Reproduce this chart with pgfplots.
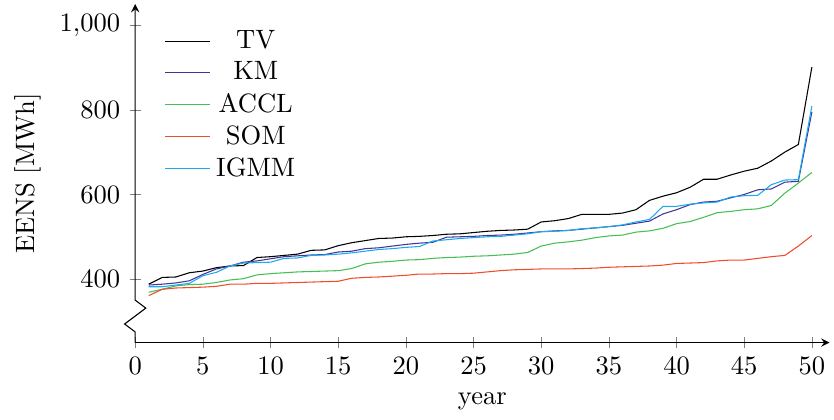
\documentclass[border=0pt]{standalone}
\usepackage{pgfplots}
\usepackage{pgfplotstable}
\pgfplotsset{compat=1.18}
\definecolor{cKM}{RGB}{68,52,150}
\definecolor{cACCL}{RGB}{70,190,85}
\definecolor{cSOM}{RGB}{240,75,45}
\definecolor{cIGMM}{RGB}{25,170,240}
\pgfplotstableread{
year TV KM ACCL SOM IGMM
1 388 386 369 361 382
2 404 388 376 376 382
3 405 391 384 379 386
4 415 396 387 380 390
5 419 411 388 381 408
6 427 424 392 383 416
7 431 431 398 388 431
8 432 440 401 388 438
9 451 443 410 390 439
10 453 448 413 390 440
11 456 453 415 391 449
12 459 455 417 392 450
13 468 457 418 393 456
14 469 458 419 394 457
15 479 464 420 395 459
16 486 466 425 402 462
17 491 472 436 404 466
18 496 474 440 405 470
19 497 478 442 407 472
20 500 482 445 409 475
21 501 485 446 412 477
22 503 487 449 412 490
23 506 499 451 413 493
24 507 500 452 413 496
25 510 501 454 414 498
26 513 503 455 417 500
27 515 504 457 420 501
28 516 506 459 422 504
29 518 509 463 423 507
30 535 512 478 424 512
31 538 514 485 424 513
32 543 515 488 424 515
33 553 518 492 425 519
34 553 521 498 426 521
35 553 524 502 428 524
36 556 527 504 429 528
37 564 532 511 430 535
38 586 537 514 431 541
39 596 554 520 433 572
40 604 564 531 437 572
41 617 576 536 438 577
42 636 582 546 439 580
43 636 584 557 443 582
44 646 592 560 445 594
45 655 600 564 445 597
46 662 611 566 449 598
47 679 613 574 453 623
48 700 629 603 456 634
49 718 631 627 478 635
50 901 795 652 503 809
}\data
\begin{document}
\begin{tikzpicture}
\begin{axis}[
  scale only axis,
  width=261.6pt, height=127.6pt,
  xmin=0, xmax=51.3, ymin=250, ymax=1050,
  axis lines=left,
  axis y discontinuity=crunch,
  xtick={0,5,...,50},
  ytick={400,600,800,1000},
  tick align=center,
  tick style={gray},
  xlabel={year},
  ylabel={EENS [MWh]},
  legend style={draw=none, fill=none, at={(0.03,0.955)}, anchor=north west,
    /tikz/every even column/.append style={column sep=0pt},
    row sep=-0.5pt},
  legend cell align=center,
]
\addplot[black] table[x=year, y=TV] {\data};
\addlegendentry{TV}
\addplot[cKM] table[x=year, y=KM] {\data};
\addlegendentry{KM}
\addplot[cACCL] table[x=year, y=ACCL] {\data};
\addlegendentry{ACCL}
\addplot[cSOM] table[x=year, y=SOM] {\data};
\addlegendentry{SOM}
\addplot[cIGMM] table[x=year, y=IGMM] {\data};
\addlegendentry{IGMM}
\end{axis}
\path ([xshift=-2.3pt,yshift=1.3pt]current bounding box.north west);
\end{tikzpicture}
\end{document}
